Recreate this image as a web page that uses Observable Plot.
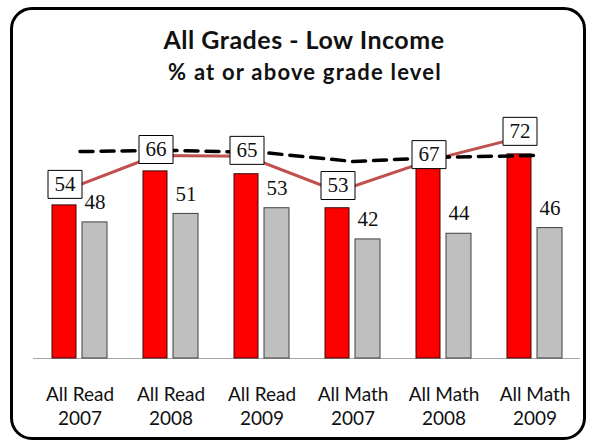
<!DOCTYPE html>
<html>
<head>
<meta charset="utf-8">
<script src="https://cdn.jsdelivr.net/npm/d3@7"></script>
<script src="https://cdn.jsdelivr.net/npm/@observablehq/plot@0.6"></script>
<style>
  html, body { margin: 0; padding: 0; background: #fff; }
  #wrap { position: relative; width: 592px; height: 447px; overflow: hidden; font-family: Lato, "Open Sans", sans-serif; color: #111; }
  #frame { position: absolute; left: 10px; top: 7px; width: 576px; height: 433px; box-sizing: border-box; border: 3.5px solid #000; border-radius: 22px; }
  #title { position: absolute; left: 0; width: 608px; top: 26.5px; text-align: center; font-size: 25px; line-height: 25px; font-weight: 700; letter-spacing: 0.5px; white-space: nowrap; }
  #subtitle { position: absolute; left: 0; width: 610px; top: 61px; text-align: center; font-size: 22px; line-height: 22px; font-weight: 700; letter-spacing: 1.2px; white-space: nowrap; }
  #chart { position: absolute; left: 0; top: 0; }
</style>
</head>
<body>
<div id="wrap">
  <div id="frame"></div>
  <div id="title">All Grades - Low Income</div>
  <div id="subtitle">% at or above grade level</div>
  <div id="chart"></div>
</div>
<script>
// Data
const categories = ["All Read\n2007", "All Read\n2008", "All Read\n2009", "All Math\n2007", "All Math\n2008", "All Math\n2009"];
const lowIncome = [54, 66, 65, 53, 67, 72];          // red bars (boxed labels)
const comparison = [48, 51, 53, 42, 44, 46];         // gray bars
const trendLine = [59.3, 71.6, 71.3, 58.9, 69.8, 78];   // solid red line (estimated positions)
const targetLine = [73, 73.4, 72.7, 69.5, 71, 71.6];    // dashed black line (estimated)

const rows = categories.map((c, i) => ({
  c, red: lowIncome[i], gray: comparison[i], line: trendLine[i], dash: targetLine[i]
}));

const boxSymbol = { draw(ctx) { ctx.rect(-17, -14, 34, 28); } };
const serif = "'Liberation Serif', 'DejaVu Serif', serif";

const chart = Plot.plot({
  width: 592,
  height: 447,
  marginLeft: 33,
  marginRight: 12,
  marginTop: 74.5,
  marginBottom: 89,
  style: { background: "transparent", fontFamily: "Lato, 'Open Sans', sans-serif", overflow: "visible" },
  x: { domain: categories, padding: 0, label: null },
  y: { domain: [0, 100], axis: null },
  marks: [
    Plot.ruleY([0], { stroke: "#a6a6a6", strokeWidth: 1.2 }),
    Plot.barY(rows, { x: "c", y: "red", fill: "#ff0000", stroke: "#3a0a0a", strokeWidth: 1, insetLeft: 18, insetRight: 49 }),
    Plot.barY(rows, { x: "c", y: "gray", fill: "#bfbfbf", stroke: "#404040", strokeWidth: 1, insetLeft: 48, insetRight: 18 }),
    Plot.line(rows, { x: "c", y: "line", stroke: "#c0504d", strokeWidth: 3, dx: -15 }),
    Plot.line(rows, { x: "c", y: "dash", stroke: "#000", strokeWidth: 3.5, strokeDasharray: "13,8" }),
    Plot.dot(rows, { x: "c", y: "line", dx: -15, dy: -6, symbol: boxSymbol, r: 10, fill: "#fff", stroke: "#000", strokeWidth: 1 }),
    Plot.text(rows, { x: "c", y: "line", dx: -15, dy: -6, text: d => String(d.red), fontSize: 21, fontFamily: serif, fill: "#111" }),
    Plot.text(rows, { x: "c", y: "gray", dx: 15, dy: -20, text: d => String(d.gray), fontSize: 21, fontFamily: serif, fill: "#111" }),
    Plot.axisX({ tickSize: 0, tickPadding: 26, fontSize: 19, lineHeight: 1.25, label: null, fill: "#111" })
  ]
});
document.getElementById("chart").appendChild(chart);
</script>
</body>
</html>
